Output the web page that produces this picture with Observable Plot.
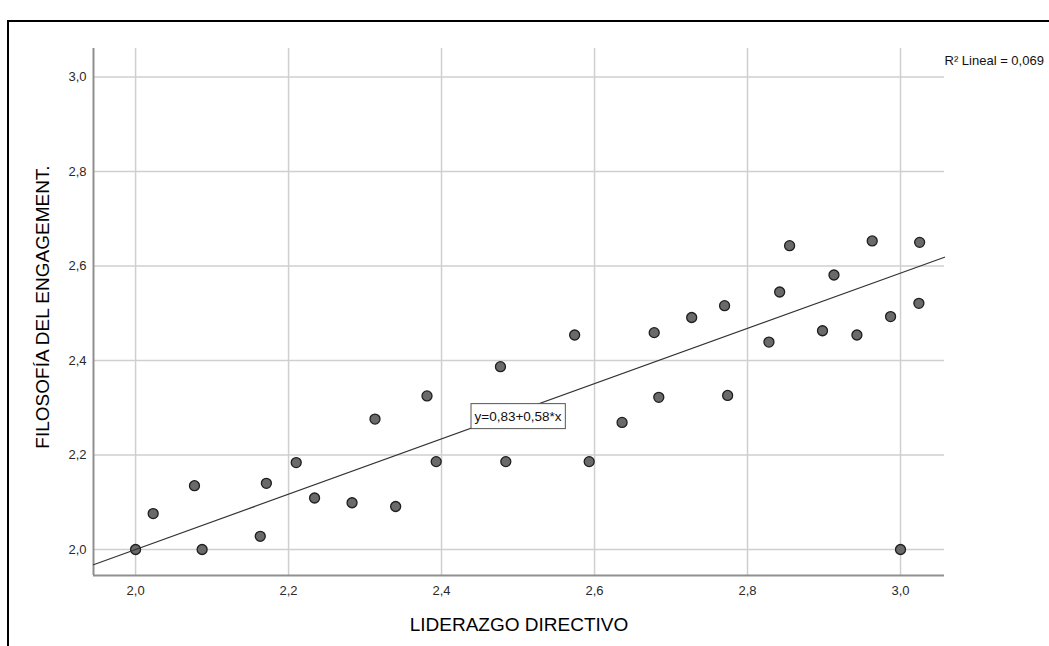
<!DOCTYPE html>
<html>
<head>
<meta charset="utf-8">
<script src="https://cdn.jsdelivr.net/npm/d3@7"></script>
<script src="https://cdn.jsdelivr.net/npm/@observablehq/plot@0.6"></script>
<style>
  body { margin: 0; background: #fff; }
  #wrap { position: relative; width: 1049px; height: 646px; overflow: hidden; background: #fff; }
  #border { position: absolute; left: 7px; top: 20px; right: -20px; bottom: -20px;
            border-left: 2px solid #000; border-top: 2px solid #000; pointer-events: none; }
</style>
</head>
<body>
<div id="wrap"><div id="border"></div></div>
<script>
// ---- data ----
const liderazgo = [2.000, 2.023, 2.077, 2.087, 2.163, 2.171, 2.210, 2.234, 2.283, 2.313, 2.340, 2.381,
                   2.393, 2.477, 2.484, 2.574, 2.593, 2.636, 2.678, 2.684, 2.727, 2.770, 2.774, 2.828,
                   2.842, 2.855, 2.898, 2.913, 2.943, 2.963, 2.987, 3.000, 3.024, 3.025];
const filosofia = [2.000, 2.076, 2.135, 2.000, 2.028, 2.140, 2.184, 2.109, 2.099, 2.276, 2.091, 2.325,
                   2.186, 2.387, 2.186, 2.454, 2.186, 2.269, 2.459, 2.322, 2.491, 2.516, 2.326, 2.439,
                   2.545, 2.643, 2.463, 2.581, 2.454, 2.653, 2.493, 2.000, 2.521, 2.650];
const xTicks = [2.0, 2.2, 2.4, 2.6, 2.8, 3.0];
const yTicks = [2.0, 2.2, 2.4, 2.6, 2.8, 3.0];
const xDomain = [1.945, 3.0575];
const yDomain = [1.945, 3.0603];
const fitIntercept = 0.83;
const fitSlope = 0.585;
const eqLabel = "y=0,83+0,58*x";
const eqAtX = 2.5;
const r2Label = "R² Lineal = 0,069";
const xTitle = "LIDERAZGO DIRECTIVO";
const yTitle = "FILOSOFÍA DEL ENGAGEMENT.";

const points = liderazgo.map((x, i) => ({x, y: filosofia[i]}));
const fitLine = xDomain.map(x => ({x, y: fitIntercept + fitSlope * x}));
const fmt = d => d.toFixed(1).replace(".", ",");

const chart = Plot.plot({
  width: 1049,
  height: 646,
  marginTop: 48,
  marginRight: 105,
  marginBottom: 71,
  marginLeft: 93,
  style: { fontFamily: "'Liberation Sans', Arial, sans-serif", fontSize: "13px", background: "white", color: "#2a2a2a" },
  x: { domain: xDomain },
  y: { domain: yDomain },
  marks: [
    Plot.gridX(xTicks, { stroke: "#cfcfcf", strokeOpacity: 1, strokeWidth: 1.5 }),
    Plot.gridY(yTicks, { stroke: "#cfcfcf", strokeOpacity: 1, strokeWidth: 1.5 }),
    Plot.ruleX([xDomain[0]], { stroke: "#8f8f8f", strokeWidth: 2 }),
    Plot.ruleY([yDomain[0]], { stroke: "#8f8f8f", strokeWidth: 2 }),
    Plot.axisX(xTicks, { tickSize: 0, tickPadding: 10, tickFormat: fmt, label: null, fontSize: 13 }),
    Plot.axisY(yTicks, { tickSize: 0, tickPadding: 7, tickFormat: fmt, label: null, fontSize: 13 }),
    Plot.dot(points, { x: "x", y: "y", r: 5, fill: "#6a6a6a", stroke: "#1e1e1e", strokeWidth: 1.3 }),
    Plot.line(fitLine, { x: "x", y: "y", stroke: "#333", strokeWidth: 1.2 }),
    Plot.text([eqAtX], { x: d => d, y: d => fitIntercept + fitSlope * d, text: () => eqLabel,
                         dy: 5, fontSize: 13.5, fill: "#111" }),
    Plot.text([r2Label], { frameAnchor: "top-right", text: d => d, textAnchor: "start", lineAnchor: "middle",
                           dx: 0, dy: 12, fontSize: 13, fill: "#111" }),
    Plot.text([xTitle], { frameAnchor: "bottom", text: d => d, textAnchor: "middle", lineAnchor: "middle",
                          dy: 49, fontSize: 19, fill: "#000" }),
    Plot.text([yTitle], { frameAnchor: "left", text: d => d, rotate: -90, textAnchor: "middle", lineAnchor: "middle",
                          dx: -51, dy: -5, fontSize: 19, fill: "#000" })
  ]
});

document.getElementById("wrap").insertBefore(chart, document.getElementById("border"));

// box behind the equation label
for (const t of chart.querySelectorAll("text")) {
  if (t.textContent === eqLabel) {
    const bb = t.getBBox();
    const rect = document.createElementNS("http://www.w3.org/2000/svg", "rect");
    rect.setAttribute("x", bb.x - 3.5);
    rect.setAttribute("y", bb.y - 5);
    rect.setAttribute("width", bb.width + 7);
    rect.setAttribute("height", bb.height + 10);
    rect.setAttribute("fill", "white");
    rect.setAttribute("stroke", "#555");
    rect.setAttribute("stroke-width", "1");
    if (t.getAttribute("transform")) rect.setAttribute("transform", t.getAttribute("transform"));
    t.parentNode.insertBefore(rect, t);
  }
}
</script>
</body>
</html>
